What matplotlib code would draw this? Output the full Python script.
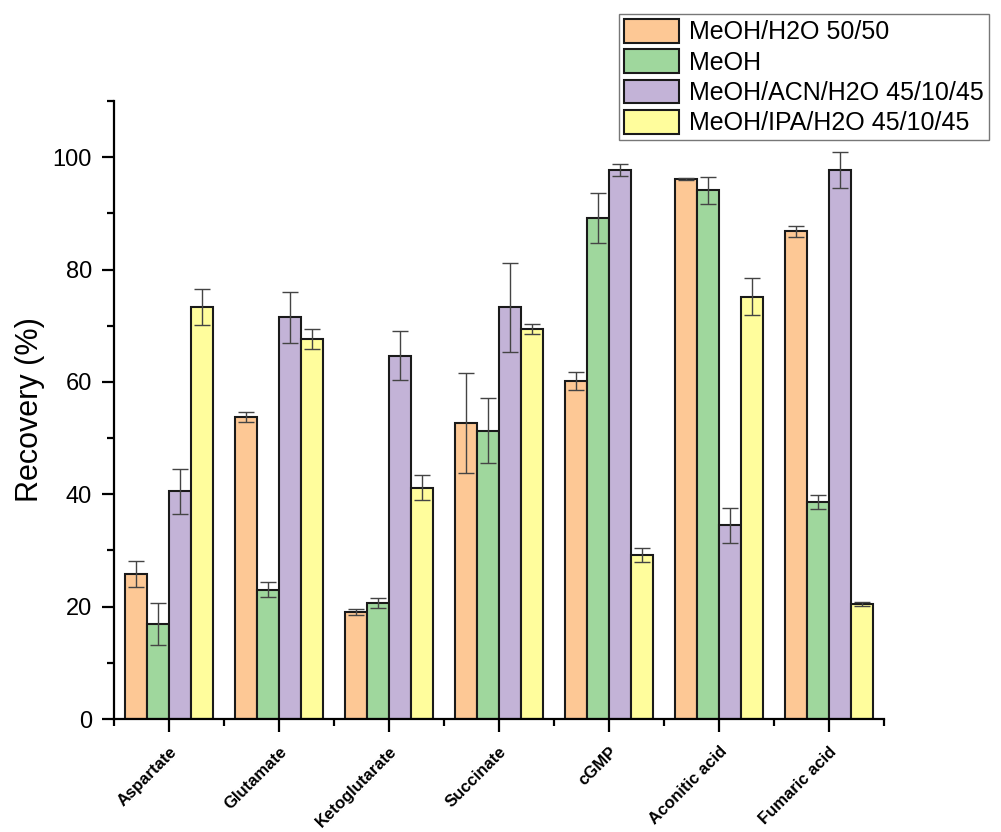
import numpy as np
import matplotlib
matplotlib.use("Agg")
import matplotlib.pyplot as plt
from matplotlib.ticker import MultipleLocator, FixedLocator

plt.rcParams['font.family'] = ['Liberation Sans', 'DejaVu Sans']

categories = ["Aspartate", "Glutamate", "Ketoglutarate", "Succinate",
              "cGMP", "Aconitic acid", "Fumaric acid"]
series_names = ["MeOH/H2O 50/50", "MeOH", "MeOH/ACN/H2O 45/10/45",
                "MeOH/IPA/H2O 45/10/45"]

meoh_h2o = [25.8, 53.7, 19.1, 52.7, 60.2, 96.1, 86.8]
meoh_h2o_err = [2.3, 0.9, 0.5, 8.9, 1.6, 0.25, 0.95]
meoh = [16.9, 23.0, 20.7, 51.3, 89.2, 94.1, 38.6]
meoh_err = [3.7, 1.3, 0.9, 5.8, 4.4, 2.4, 1.3]
meoh_acn = [40.5, 71.5, 64.7, 73.3, 97.7, 34.5, 97.7]
meoh_acn_err = [4.0, 4.5, 4.4, 7.9, 1.0, 3.1, 3.15]
meoh_ipa = [73.3, 67.7, 41.2, 69.4, 29.2, 75.2, 20.4]
meoh_ipa_err = [3.2, 1.8, 2.3, 0.9, 1.25, 3.3, 0.35]

colors = ["#FDC895", "#9FD79D", "#C3B3D7", "#FFFD9C"]

values = [meoh_h2o, meoh, meoh_acn, meoh_ipa]
errors = [meoh_h2o_err, meoh_err, meoh_acn_err, meoh_ipa_err]

fig = plt.figure(figsize=(10.01, 8.32), dpi=100)
ax = fig.add_axes([114 / 1001, 1 - 719 / 832, (884 - 114) / 1001, (719 - 101) / 832])

x = np.arange(1, len(categories) + 1)
width = 0.2
handles = []
for i, (vals, errs, col, name) in enumerate(zip(values, errors, colors, series_names)):
    pos = x + (i - 1.5) * width
    b = ax.bar(pos, vals, width=width, color=col, edgecolor="#1a1a1a",
               linewidth=1.5, label=name, zorder=2)
    ax.errorbar(pos, vals, yerr=errs, fmt="none", ecolor="#444444",
                elinewidth=1.0, capsize=6, capthick=1.0, zorder=3)
    handles.append(b)

ax.set_xlim(0.5, len(categories) + 0.5)
ax.set_ylim(0, 110)

ax.spines['top'].set_visible(False)
ax.spines['right'].set_visible(False)
ax.spines['left'].set_linewidth(1.6)
ax.spines['bottom'].set_linewidth(1.6)

ax.yaxis.set_major_locator(MultipleLocator(20))
ax.yaxis.set_minor_locator(MultipleLocator(10))
ax.set_xticks(x)
ax.xaxis.set_minor_locator(FixedLocator(np.arange(0.5, len(categories) + 1, 1.0)))
ax.set_xticklabels(categories, rotation=45, ha="right", rotation_mode="anchor",
                   fontsize=12, fontweight="bold")
ax.tick_params(axis="both", which="major", direction="out", length=9, width=1.6,
               labelsize=17, pad=7)
ax.tick_params(axis="x", which="major", labelsize=12, pad=9)
ax.tick_params(axis="both", which="minor", direction="out", length=5, width=1.6)

ax.set_ylabel("Recovery (%)", fontsize=22, labelpad=5)

leg = fig.legend(handles=handles, labels=series_names, loc="upper right",
                 bbox_to_anchor=(989 / 1001, 1 - 14 / 832), fontsize=18,
                 frameon=True, fancybox=False, edgecolor="#555555",
                 handlelength=2.2, handleheight=1.08, handletextpad=0.4,
                 labelspacing=0.2, borderpad=0.2, borderaxespad=0.0)
leg.get_frame().set_linewidth(1.0)

fig.savefig("out.png", dpi=100)
